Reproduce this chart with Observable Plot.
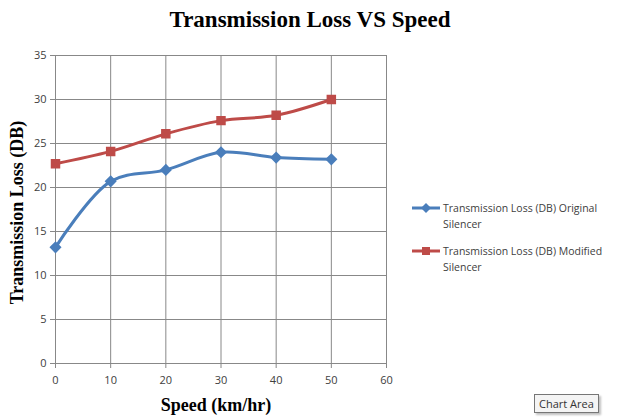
<!DOCTYPE html>
<html>
<head>
<meta charset="utf-8">
<script src="https://cdn.jsdelivr.net/npm/d3@7"></script>
<script src="https://cdn.jsdelivr.net/npm/@observablehq/plot@0.6"></script>
<style>
  html, body { margin: 0; padding: 0; background: #fff; }
  #wrap { position: relative; width: 617px; height: 417px; overflow: hidden; background: #fff; }
  #title { position: absolute; left: 0; width: 620px; top: 7px; text-align: center;
    font-family: "Liberation Serif", "Times New Roman", serif; font-weight: bold; font-size: 23px; color: #000; }
  #legend { position: absolute; left: 411px; top: 200px; font-family: "Open Sans", "Liberation Sans", sans-serif;
    font-size: 10.5px; color: #404040; line-height: 16px; }
  .item { position: relative; padding-left: 32px; margin-bottom: 11px; width: 180px; }
  .item svg { position: absolute; left: 0; top: 2px; }
  #tip { position: absolute; left: 534px; top: 394px; padding: 1px 4px; border: 1px solid #767676;
    background: #f4f4f4; font-family: "Open Sans", sans-serif; font-size: 11px; color: #333;
    box-shadow: 2px 2px 2px rgba(0,0,0,0.25); }
</style>
</head>
<body>
<div id="wrap">
  <div id="title">Transmission Loss VS Speed</div>
  <div id="chart"></div>
  <div id="legend"></div>
  <div id="tip">Chart Area</div>
</div>
<script>
const speeds = [0, 10, 20, 30, 40, 50];
const original = [13.2, 20.7, 22.0, 24.0, 23.4, 23.2];
const modified = [22.7, 24.1, 26.1, 27.6, 28.2, 30.0];
const seriesNames = ["Transmission Loss (DB) Original Silencer", "Transmission Loss (DB) Modified Silencer"];
const colors = ["#4a7ebb", "#be4b48"];
const xTicks = [0, 10, 20, 30, 40, 50, 60];
const yTicks = [0, 5, 10, 15, 20, 25, 30, 35];

const data = [];
speeds.forEach((s, i) => {
  data.push({speed: s, value: original[i], series: seriesNames[0]});
  data.push({speed: s, value: modified[i], series: seriesNames[1]});
});
const orig = data.filter(d => d.series === seriesNames[0]);
const mod = data.filter(d => d.series === seriesNames[1]);

const chart = Plot.plot({
  width: 617,
  height: 417,
  marginLeft: 55,
  marginRight: 231,
  marginTop: 55,
  marginBottom: 54,
  style: {fontFamily: "'Open Sans', 'Liberation Sans', sans-serif", fontSize: "11px", color: "#404040", background: "transparent"},
  x: {domain: [0, 60], ticks: xTicks, label: null},
  y: {domain: [0, 35], ticks: yTicks, label: null},
  marks: [
    Plot.gridX(xTicks, {stroke: "#888", strokeOpacity: 1, strokeWidth: 1}),
    Plot.gridY(yTicks, {stroke: "#888", strokeOpacity: 1, strokeWidth: 1}),
    Plot.ruleX([0], {stroke: "#888"}),
    Plot.ruleY([0], {stroke: "#888"}),
    Plot.axisX({ticks: xTicks, tickSize: 5, tickPadding: 8, stroke: "#888", fill: "#404040", label: null}),
    Plot.axisY({ticks: yTicks, tickSize: 5, tickPadding: 4, stroke: "#888", fill: "#404040", label: null}),
    Plot.line(orig, {x: "speed", y: "value", stroke: colors[0], strokeWidth: 3, curve: "catmull-rom"}),
    Plot.line(mod, {x: "speed", y: "value", stroke: colors[1], strokeWidth: 3, curve: "catmull-rom"}),
    Plot.dot(orig, {x: "speed", y: "value", symbol: "diamond2", fill: colors[0], stroke: colors[0], r: 4.5}),
    Plot.dot(mod, {x: "speed", y: "value", symbol: "square", fill: colors[1], stroke: colors[1], r: 4.5}),
    Plot.text(["Speed (km/hr)"], {frameAnchor: "bottom", dx: -5, dy: 47, fontFamily: "'Liberation Serif', 'Times New Roman', serif", fontWeight: "bold", fontSize: 18, fill: "#000"}),
    Plot.text(["Transmission Loss (DB)"], {frameAnchor: "left", textAnchor: "middle", dx: -38, dy: 3, rotate: -90, fontFamily: "'Liberation Serif', 'Times New Roman', serif", fontWeight: "bold", fontSize: 18, fill: "#000"})
  ]
});
document.getElementById("chart").appendChild(chart);

const legend = document.getElementById("legend");
seriesNames.forEach((name, i) => {
  const div = document.createElement("div");
  div.className = "item";
  const sym = i === 0
    ? `<polygon points="15,1 20,6 15,11 10,6" fill="${colors[i]}"/>`
    : `<rect x="11" y="2" width="8" height="8" fill="${colors[i]}"/>`;
  div.innerHTML = `<svg width="30" height="12"><line x1="1" y1="6" x2="29" y2="6" stroke="${colors[i]}" stroke-width="3"/>${sym}</svg>${name.replace(" Silencer", "<br>Silencer")}`;
  legend.appendChild(div);
});
</script>
</body>
</html>
